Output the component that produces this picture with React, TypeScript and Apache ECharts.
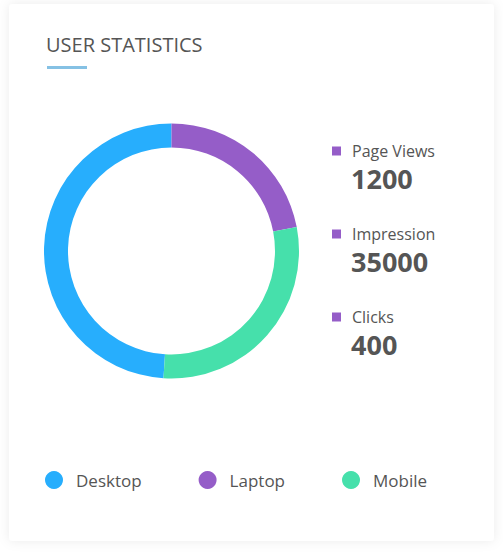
import React, { useEffect, useRef } from "react";
import * as echarts from "echarts";

const categories = ["Desktop", "Laptop", "Mobile"];
const shares = [49, 22, 29];
const colors = ["#27aefd", "#955dc8", "#46e0ab"];
const statLabels = ["Page Views", "Impression", "Clicks"];
const statValues = ["1200", "35000", "400"];
const titleText = "USER STATISTICS";

export default function App() {
  const ref = useRef<HTMLDivElement>(null);
  useEffect(() => {
    document.body.style.margin = "0";
    const chart = echarts.init(ref.current!, null, { renderer: "svg" });
    const font = "'Open Sans', 'Noto Sans', sans-serif";
    const total = shares.reduce((a, b) => a + b, 0);
    const startAngle = 90 + (360 * shares[0]) / total;
    const statGraphics: any[] = [];
    statLabels.forEach((label, i) => {
      const y0 = 151 + i * 83;
      statGraphics.push(
        { type: "rect", shape: { x: 332, y: y0 - 4.5, width: 9, height: 9 }, style: { fill: "#955dc8" } },
        { type: "text", x: 352, y: y0, style: { text: label, fontSize: 16, fontFamily: font, fill: "#555", verticalAlign: "middle" } },
        { type: "text", x: 351, y: y0 + 27.5, style: { text: statValues[i], fontSize: 27, fontWeight: "bold", fontFamily: font, fill: "#555", verticalAlign: "middle" } }
      );
    });
    chart.setOption({
      animation: false,
      color: colors,
      graphic: [
        {
          type: "rect",
          z: -10,
          shape: { x: 9, y: 4, width: 485, height: 537, r: 4 },
          style: { fill: "#fff", shadowBlur: 12, shadowColor: "rgba(0,0,0,0.08)" },
        },
        { type: "text", x: 46, y: 44.5, style: { text: titleText, fontSize: 20, fontFamily: font, fill: "#555", verticalAlign: "middle" } },
        { type: "rect", shape: { x: 47, y: 66, width: 40, height: 3 }, style: { fill: "#85c1e4" } },
        ...statGraphics,
      ],
      legend: {
        data: categories,
        left: 45,
        top: 471,
        padding: 0,
        icon: "circle",
        itemWidth: 18,
        itemHeight: 18,
        itemGap: 57,
        selectedMode: false,
        textStyle: { fontSize: 17, fontFamily: font, color: "#555", padding: [0, 0, 0, 8] },
      },
      series: [
        {
          type: "pie",
          center: [171.5, 251],
          radius: [103.5, 127.5],
          startAngle,
          clockwise: true,
          label: { show: false },
          labelLine: { show: false },
          emphasis: { disabled: true },
          itemStyle: { borderWidth: 0 },
          data: categories.map((name, i) => ({ name, value: shares[i] })),
        },
      ],
    });
    return () => chart.dispose();
  }, []);
  return <div ref={ref} style={{ width: 503, height: 555 }} />;
}
